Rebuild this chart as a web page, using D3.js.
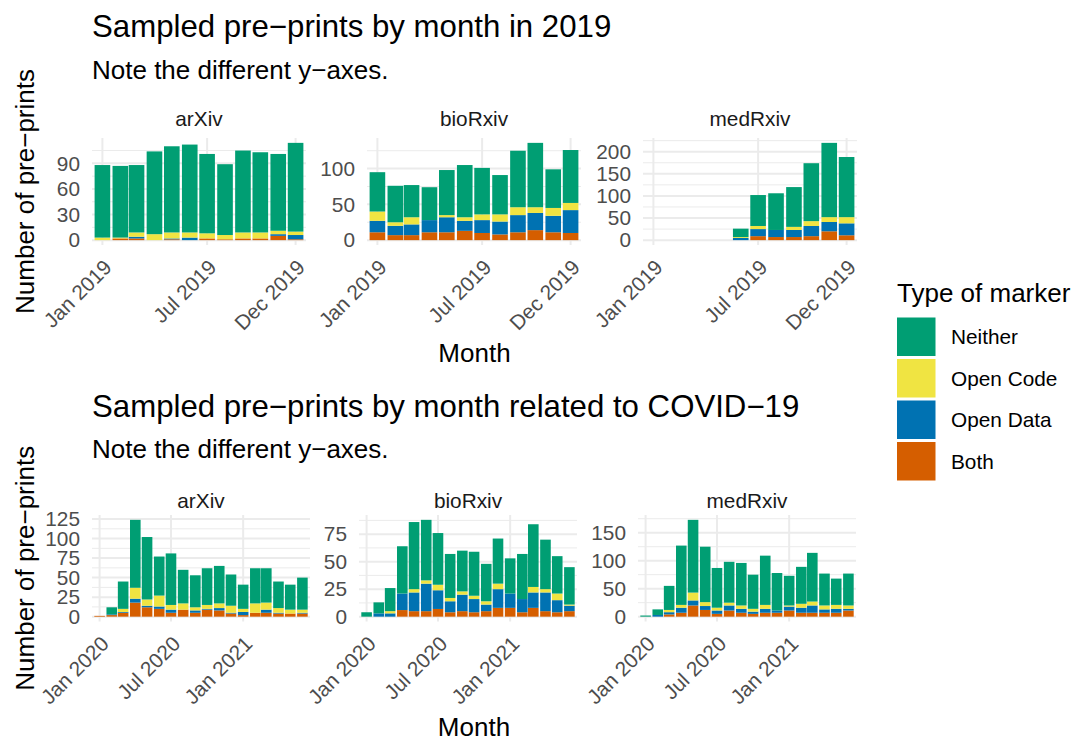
<!DOCTYPE html>
<html>
<head>
<meta charset="utf-8">
<script src="https://cdn.jsdelivr.net/npm/d3@7"></script>
<style>
  body { margin: 0; background: #fff; }
  svg text { font-family: "Liberation Sans", Arial, Helvetica, sans-serif; }
</style>
</head>
<body>
<div id="chart"></div>
<script>
// ========== Data ==========
const legendOrder = ["Neither", "Open Code", "Open Data", "Both"];
const stackOrder = ["Both", "Open Data", "Open Code", "Neither"];
const markerColors = ["#009E73", "#F0E442", "#0072B2", "#D55E00"];
const repos = ["arXiv", "bioRxiv", "medRxiv"];

const months2019 = ["2019-01", "2019-02", "2019-03", "2019-04", "2019-05", "2019-06",
  "2019-07", "2019-08", "2019-09", "2019-10", "2019-11", "2019-12"];
const monthsCovid = ["2020-01", "2020-02", "2020-03", "2020-04", "2020-05", "2020-06",
  "2020-07", "2020-08", "2020-09", "2020-10", "2020-11", "2020-12",
  "2021-01", "2021-02", "2021-03", "2021-04", "2021-05", "2021-06"];

const xTicks2019 = ["2019-01", "2019-07", "2019-12"];
const xTickLabels2019 = ["Jan 2019", "Jul 2019", "Dec 2019"];
const xTicksCovid = ["2020-01", "2020-07", "2021-01"];
const xTickLabelsCovid = ["Jan 2020", "Jul 2020", "Jan 2021"];

// 2019 — arXiv
const arxiv2019Both    = [0, 2, 2, 0, 1, 0, 2, 1, 2, 2, 5, 1];
const arxiv2019Data    = [0, 0, 2, 0, 1, 3, 0, 0, 0, 0, 2, 5];
const arxiv2019Code    = [3, 1, 5, 7, 7, 6, 6, 5, 7, 7, 4, 4];
const arxiv2019Neither = [85, 84, 79, 97, 101, 103, 93, 83, 96, 94, 90, 104];
const arxiv2019Ticks   = [0, 30, 60, 90];

// 2019 — bioRxiv
const biorxiv2019Both    = [11, 7, 7, 11, 11, 13, 10, 8, 11, 14, 11, 10];
const biorxiv2019Data    = [16, 13, 15, 17, 21, 14, 18, 18, 24, 24, 23, 32];
const biorxiv2019Code    = [13, 5, 10, 0, 3, 5, 8, 10, 11, 8, 11, 10];
const biorxiv2019Neither = [55, 51, 45, 46, 63, 73, 65, 55, 79, 90, 54, 74];
const biorxiv2019Ticks   = [0, 50, 100];

// 2019 — medRxiv (launched mid-year)
const medrxiv2019Both    = [0, 0, 0, 0, 0, 0, 9, 7, 7, 9, 20, 11];
const medrxiv2019Data    = [0, 0, 0, 0, 0, 5, 16, 16, 16, 23, 21, 27];
const medrxiv2019Code    = [0, 0, 0, 0, 0, 2, 7, 0, 7, 11, 11, 14];
const medrxiv2019Neither = [0, 0, 0, 0, 0, 19, 70, 83, 90, 131, 168, 136];
const medrxiv2019Ticks   = [0, 50, 100, 150, 200];

// COVID-19 — arXiv
const arxivCovidBoth    = [1, 2, 5, 18, 12, 10, 5, 9, 5, 9, 8, 4, 2, 5, 5, 4, 4, 4];
const arxivCovidData    = [0, 1, 1, 5, 2, 3, 4, 0, 3, 1, 3, 1, 4, 0, 4, 1, 0, 1];
const arxivCovidCode    = [0, 0, 4, 14, 8, 14, 6, 8, 4, 5, 6, 9, 4, 12, 9, 6, 5, 4];
const arxivCovidNeither = [0, 9, 35, 87, 80, 50, 66, 43, 41, 47, 48, 40, 31, 45, 44, 34, 32, 41];
const arxivCovidTicks   = [0, 25, 50, 75, 100, 125];

// COVID-19 — bioRxiv
const biorxivCovidBoth    = [0, 0, 0, 6, 5, 5, 7, 4, 5, 4, 5, 8, 8, 4, 8, 5, 4, 5];
const biorxivCovidData    = [0, 3, 3, 15, 17, 25, 17, 10, 15, 12, 6, 17, 13, 12, 14, 17, 11, 5];
const biorxivCovidCode    = [0, 0, 2, 0, 3, 3, 5, 3, 3, 3, 3, 5, 0, 0, 5, 3, 6, 1];
const biorxivCovidNeither = [4, 10, 21, 43, 61, 55, 47, 40, 37, 40, 34, 41, 32, 41, 57, 45, 34, 34];
const biorxivCovidTicks   = [0, 25, 50, 75];

// COVID-19 — medRxiv
const medrxivCovidBoth    = [0, 0, 4, 7, 20, 12, 5, 11, 7, 5, 7, 7, 11, 7, 7, 7, 7, 11];
const medrxivCovidData    = [0, 3, 4, 9, 9, 7, 6, 9, 7, 4, 7, 4, 7, 9, 13, 6, 7, 3];
const medrxivCovidCode    = [0, 0, 4, 5, 14, 7, 5, 5, 6, 5, 7, 0, 2, 7, 7, 7, 7, 6];
const medrxivCovidNeither = [2, 10, 43, 106, 130, 99, 71, 73, 76, 61, 88, 67, 53, 66, 87, 57, 47, 57];
const medrxivCovidTicks   = [0, 50, 100, 150];

// ========== Setup ==========
const width = 1073;
const height = 738;
const parseMonth = d3.utcParse("%Y-%m");
const color = d3.scaleOrdinal().domain(legendOrder).range(markerColors);

const svg = d3
  .select("#chart")
  .append("svg")
  .attr("width", width)
  .attr("height", height)
  .style("background", "#fff");

function buildRows(months, both, data, code, neither) {
  return months.map((m, i) => ({
    month: parseMonth(m),
    Both: both[i],
    "Open Data": data[i],
    "Open Code": code[i],
    Neither: neither[i],
  }));
}

const facets2019 = [
  { ticks: arxiv2019Ticks, rows: buildRows(months2019, arxiv2019Both, arxiv2019Data, arxiv2019Code, arxiv2019Neither) },
  { ticks: biorxiv2019Ticks, rows: buildRows(months2019, biorxiv2019Both, biorxiv2019Data, biorxiv2019Code, biorxiv2019Neither) },
  { ticks: medrxiv2019Ticks, rows: buildRows(months2019, medrxiv2019Both, medrxiv2019Data, medrxiv2019Code, medrxiv2019Neither) },
];
const facetsCovid = [
  { ticks: arxivCovidTicks, rows: buildRows(monthsCovid, arxivCovidBoth, arxivCovidData, arxivCovidCode, arxivCovidNeither) },
  { ticks: biorxivCovidTicks, rows: buildRows(monthsCovid, biorxivCovidBoth, biorxivCovidData, biorxivCovidCode, biorxivCovidNeither) },
  { ticks: medrxivCovidTicks, rows: buildRows(monthsCovid, medrxivCovidBoth, medrxivCovidData, medrxivCovidCode, medrxivCovidNeither) },
];

// ========== Panels ==========
drawPanel({
  title: "Sampled pre\u2212prints by month in 2019",
  titleY: 37.3,
  subtitleY: 79.3,
  stripY: 126,
  top: 138,
  bottom: 245,
  lefts: [92, 367, 643],
  panelWidth: 214,
  padDays: 18,
  facets: facets2019,
  xTicks: xTicks2019,
  xTickLabels: xTickLabels2019,
  monthY: 362,
});

drawPanel({
  title: "Sampled pre\u2212prints by month related to COVID\u221219",
  titleY: 417.3,
  subtitleY: 458.3,
  stripY: 508,
  top: 515,
  bottom: 621.5,
  lefts: [92, 359, 638],
  panelWidth: 218,
  padDays: 19.4,
  facets: facetsCovid,
  xTicks: xTicksCovid,
  xTickLabels: xTickLabelsCovid,
  monthY: 735.5,
});

drawLegend();

function drawPanel(cfg) {
  const g = svg.append("g");

  // Titles
  g.append("text")
    .attr("x", 92)
    .attr("y", cfg.titleY)
    .attr("font-size", 31.2)
    .attr("fill", "#000")
    .text(cfg.title);

  g.append("text")
    .attr("x", 92)
    .attr("y", cfg.subtitleY)
    .attr("font-size", 26)
    .attr("fill", "#000")
    .text("Note the different y\u2212axes.");

  // Axis titles
  g.append("text")
    .attr("x", (cfg.lefts[0] + cfg.lefts[2] + cfg.panelWidth) / 2)
    .attr("y", cfg.monthY)
    .attr("text-anchor", "middle")
    .attr("font-size", 26)
    .text("Month");

  g.append("text")
    .attr("transform", `translate(34,${(cfg.top + cfg.bottom) / 2}) rotate(-90)`)
    .attr("text-anchor", "middle")
    .attr("font-size", 26)
    .text("Number of pre\u2212prints");

  cfg.facets.forEach((facet, i) => {
    drawFacet(g, facet, repos[i], cfg, cfg.lefts[i]);
  });
}

function drawFacet(g, facet, repo, cfg, left) {
  const right = left + cfg.panelWidth;
  const rows = facet.rows;
  const dayMs = 864e5;
  const first = rows[0].month;
  const last = rows[rows.length - 1].month;

  const x = d3
    .scaleUtc()
    .domain([new Date(+first - cfg.padDays * dayMs), new Date(+last + cfg.padDays * dayMs)])
    .range([left, right]);

  const maxTotal = d3.max(rows, (d) => stackOrder.reduce((s, k) => s + d[k], 0));
  const y = d3
    .scaleLinear()
    .domain([-0.05 * maxTotal, 1.05 * maxTotal])
    .range([cfg.bottom, cfg.top]);

  // Minor grid: halfway between major ticks
  const step = facet.ticks[1] - facet.ticks[0];
  const minor = [];
  facet.ticks.forEach((t) => {
    if (t + step / 2 <= y.domain()[1]) minor.push(t + step / 2);
  });

  g.append("g")
    .selectAll("line")
    .data(minor)
    .join("line")
    .attr("x1", left)
    .attr("x2", right)
    .attr("y1", (d) => y(d))
    .attr("y2", (d) => y(d))
    .attr("stroke", "#EBEBEB")
    .attr("stroke-width", 1);

  g.append("g")
    .selectAll("line")
    .data(facet.ticks)
    .join("line")
    .attr("x1", left)
    .attr("x2", right)
    .attr("y1", (d) => y(d))
    .attr("y2", (d) => y(d))
    .attr("stroke", "#EBEBEB")
    .attr("stroke-width", 2);

  g.append("g")
    .selectAll("line")
    .data(cfg.xTicks)
    .join("line")
    .attr("x1", (d) => x(parseMonth(d)))
    .attr("x2", (d) => x(parseMonth(d)))
    .attr("y1", cfg.top)
    .attr("y2", cfg.bottom)
    .attr("stroke", "#EBEBEB")
    .attr("stroke-width", 2);

  // Stacked bars
  const barHalf = 13.5 * dayMs;
  const series = d3.stack().keys(stackOrder)(rows);

  g.append("g")
    .selectAll("g")
    .data(series)
    .join("g")
    .attr("fill", (s) => color(s.key))
    .selectAll("rect")
    .data((s) => s.filter((d) => d[1] > d[0]))
    .join("rect")
    .attr("x", (d) => x(new Date(+d.data.month - barHalf)))
    .attr("width", (d) => x(new Date(+d.data.month + barHalf)) - x(new Date(+d.data.month - barHalf)))
    .attr("y", (d) => y(d[1]))
    .attr("height", (d) => y(d[0]) - y(d[1]));

  // Y tick labels
  g.append("g")
    .selectAll("text")
    .data(facet.ticks)
    .join("text")
    .attr("x", left - 12)
    .attr("y", (d) => y(d))
    .attr("dy", "0.35em")
    .attr("text-anchor", "end")
    .attr("font-size", 20.8)
    .attr("fill", "#4D4D4D")
    .text((d) => d);

  // X tick labels (rotated 45°)
  g.append("g")
    .selectAll("text")
    .data(cfg.xTicks)
    .join("text")
    .attr("transform", (d) => `translate(${x(parseMonth(d))},${cfg.bottom + 13}) rotate(-45)`)
    .attr("dy", "0.72em")
    .attr("text-anchor", "end")
    .attr("font-size", 20.8)
    .attr("fill", "#4D4D4D")
    .text((d, i) => cfg.xTickLabels[i]);

  // Strip label
  g.append("text")
    .attr("x", (left + right) / 2)
    .attr("y", cfg.stripY)
    .attr("text-anchor", "middle")
    .attr("font-size", 20.8)
    .attr("fill", "#1A1A1A")
    .text(repo);
}

// ========== Legend ==========
function drawLegend() {
  const lg = svg.append("g").attr("transform", "translate(897,0)");

  lg.append("text")
    .attr("x", 0)
    .attr("y", 301.7)
    .attr("font-size", 26)
    .text("Type of marker");

  const items = lg
    .selectAll("g.item")
    .data(legendOrder)
    .join("g")
    .attr("class", "item")
    .attr("transform", (d, i) => `translate(0,${317.5 + i * 41.5})`);

  items
    .append("rect")
    .attr("width", 38.5)
    .attr("height", 38.5)
    .attr("fill", (d) => color(d));

  items
    .append("text")
    .attr("x", 54)
    .attr("y", 19.25)
    .attr("dy", "0.35em")
    .attr("font-size", 20.8)
    .text((d) => d);
}
</script>
</body>
</html>
